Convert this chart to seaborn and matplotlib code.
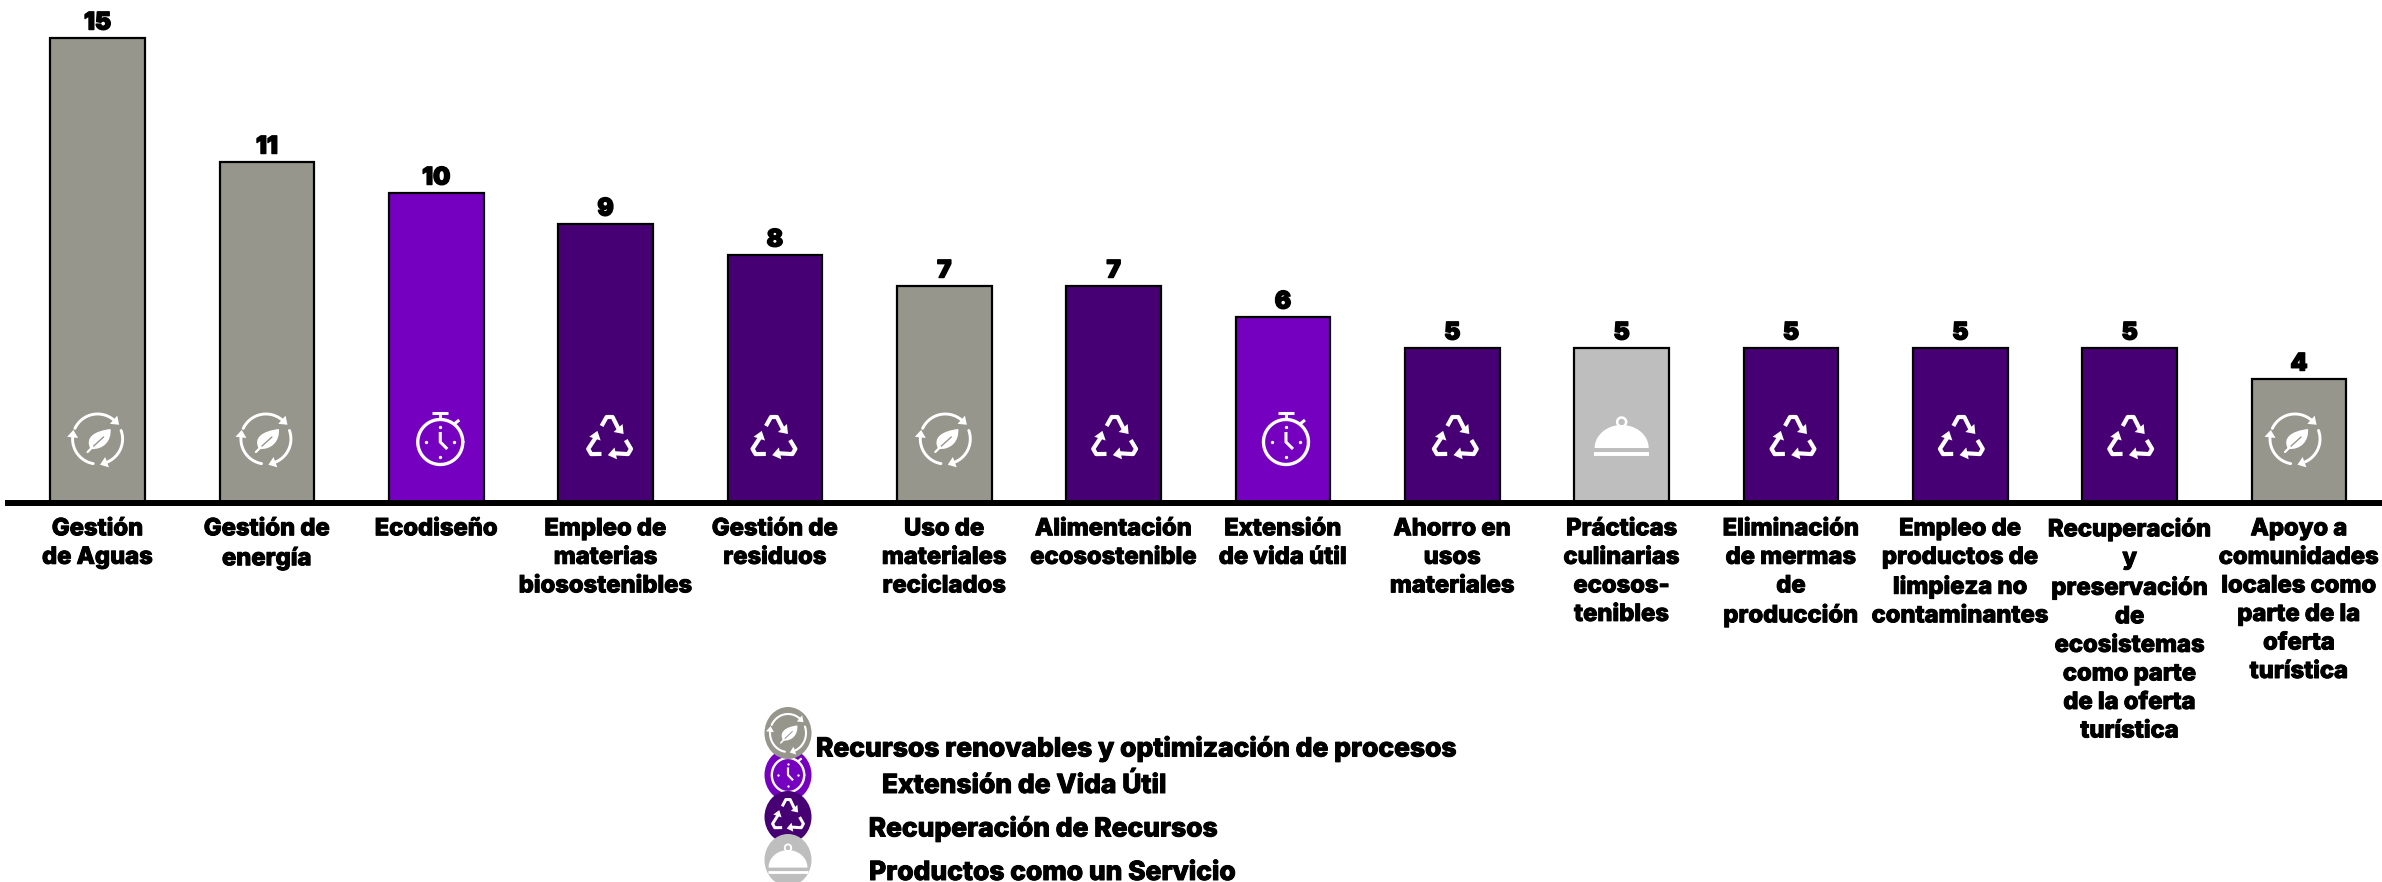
import numpy as np
import pandas as pd
import matplotlib
matplotlib.use("Agg")
import matplotlib.pyplot as plt
import matplotlib.patheffects as pe
from matplotlib.patches import Ellipse, Polygon, PathPatch
from matplotlib.path import Path
import seaborn as sns

# Chart values
categories = [
    "Gestión\nde Aguas", "Gestión de\nenergía", "Ecodiseño",
    "Empleo de\nmaterias\nbiosostenibles", "Gestión de\nresiduos",
    "Uso de\nmateriales\nreciclados", "Alimentación\necosostenible",
    "Extensión\nde vida útil", "Ahorro en\nusos\nmateriales",
    "Prácticas\nculinarias\necosos-\ntenibles",
    "Eliminación\nde mermas\nde\nproducción",
    "Empleo de\nproductos de\nlimpieza no\ncontaminantes",
    "Recuperación\ny\npreservación\nde\necosistemas\ncomo parte\nde la oferta\nturística",
    "Apoyo a\ncomunidades\nlocales como\nparte de la\noferta\nturística",
]
values = [15, 11, 10, 9, 8, 7, 7, 6, 5, 5, 5, 5, 5, 4]
groups = ["renew", "renew", "life", "recov", "recov", "renew", "recov",
          "life", "recov", "serv", "recov", "recov", "recov", "renew"]

palette = {"renew": "#96968c", "life": "#7500c0", "recov": "#460073", "serv": "#bebebe"}
legend_labels = {
    "renew": "Recursos renovables y optimización de procesos",
    "life": "Extensión de Vida Útil",
    "recov": "Recuperación de Recursos",
    "serv": "Productos como un Servicio",
}

FONT = "Inter"
W, H = 2382, 882
HEAVY = [pe.withStroke(linewidth=0.7, foreground="black")]

sns.set_theme(style="white")
plt.rcParams["font.family"] = [FONT, "DejaVu Sans"]

df = pd.DataFrame({"cat": categories, "val": values, "group": groups})

fig = plt.figure(figsize=(W / 100, H / 100), dpi=100)
ax = fig.add_axes([8 / W, 1 - 503 / H, (W - 8) / W, 503 / H])

sns.barplot(data=df, x="cat", y="val", hue="group", palette=palette, dodge=False,
            width=0.56, edgecolor="black", linewidth=1.6, legend=False, saturation=1, ax=ax)

ax.set_xlim(-0.529, 13.49)
ax.set_ylim(0, 503 / 31)
ax.set_xlabel("")
ax.set_ylabel("")
ax.set_yticks([])
sns.despine(ax=ax, left=True)
ax.spines["bottom"].set_linewidth(4.3)
ax.spines["bottom"].set_color("black")
ax.tick_params(axis="x", length=0, pad=11)
for lab in ax.get_xticklabels():
    lab.set_fontsize(17.1)
    lab.set_fontweight(800)
    lab.set_linespacing(1.385)
    lab.set_color("black")
    lab.set_path_effects(HEAVY)

for cont in ax.containers:
    labs = ax.bar_label(cont, labels=[f"{v:.0f}" if v > 0 else "" for v in cont.datavalues],
                        padding=2.5, fontsize=17.5, fontweight=900, color="black")
    for t in labs:
        t.set_path_effects([pe.withStroke(linewidth=1.0, foreground="black")])

# Overlay in pixel units for the white pictograms and legend
ov = fig.add_axes([0, 0, 1, 1], facecolor="none")
ov.set_xlim(0, W)
ov.set_ylim(H, 0)
ov.axis("off")


def rot(pts, deg):
    a = np.radians(deg)
    c, s = np.cos(a), np.sin(a)
    return np.array([[x * c - y * s, x * s + y * c] for x, y in pts])


def tf(pts, cx, cy, sx, sy):
    pts = np.asarray(pts, dtype=float)
    return np.column_stack([cx + pts[:, 0] * sx, cy + pts[:, 1] * sy])


def icon_recycle(cx, cy, sx=1, sy=1, color="white"):
    shaft = [(-8, -14), (-3, -23), (3, -23), (9, -11)]
    head = [(13, -16), (14, -6), (4, -8)]
    arts = []
    for deg in (0, 120, 240):
        p = tf(rot(shaft, deg), cx, cy, sx, sy)
        arts += ov.plot(p[:, 0], p[:, 1], color=color, lw=3.0 * sx, solid_capstyle="butt", solid_joinstyle="round")
        arts.append(ov.add_patch(Polygon(tf(rot(head, deg), cx, cy, sx, sy), fc=color, ec="none")))
    return arts


def icon_clock(cx, cy, sx=1, sy=1, color="white"):
    arts = []
    t = np.linspace(0, 2 * np.pi, 80)
    p = tf(np.column_stack([22.5 * np.cos(t), 22.5 * np.sin(t)]), cx, cy, sx, sy)
    arts += ov.plot(p[:, 0], p[:, 1], color=color, lw=2.4 * sx)
    for seg in ([(-8, -29.5), (8, -29.5)], [(0, -29), (0, -23)], [(14, -18), (19, -22)], [(0, -10), (0, 0), (7, 7)]):
        p = tf(seg, cx, cy, sx, sy)
        arts += ov.plot(p[:, 0], p[:, 1], color=color, lw=2.2 * sx, solid_capstyle="butt")
    for d in ([0, -15], [0, 15], [-14, 0], [14, 0]):
        p = tf([d], cx, cy, sx, sy)
        arts += ov.plot(p[:, 0], p[:, 1], "o", color=color, ms=2.4 * sx, mew=0)
    return arts


def icon_cloche(cx, cy, sx=1, sy=1, color="white"):
    t = np.linspace(np.pi, 2 * np.pi, 60)
    dome = tf(np.column_stack([27 * np.cos(t), 10 + 23 * np.sin(t)]), cx, cy, sx, sy)
    arts = [ov.add_patch(Polygon(dome, fc=color, ec="none"))]
    p = tf([(-27.5, 15.5), (27.5, 15.5)], cx, cy, sx, sy)
    arts += ov.plot(p[:, 0], p[:, 1], color=color, lw=2.8 * sx, solid_capstyle="butt")
    t = np.linspace(0, 2 * np.pi, 30)
    p = tf(np.column_stack([4.5 * np.cos(t), -16 + 4.5 * np.sin(t)]), cx, cy, sx, sy)
    arts += ov.plot(p[:, 0], p[:, 1], color=color, lw=1.8 * sx)
    return arts


def icon_leaf(cx, cy, sx=1, sy=1, color="white", bg="#96968c"):
    arts = []
    for start, stop in ((205, 312), (340, 430), (100, 186)):
        t = np.radians(np.linspace(start, stop, 40))
        p = tf(np.column_stack([25 * np.cos(t), 25 * np.sin(t)]), cx, cy, sx, sy)
        arts += ov.plot(p[:, 0], p[:, 1], color=color, lw=2.1 * sx, solid_capstyle="round")
        a = t[-1]
        d = np.array([-np.sin(a), np.cos(a)])
        n = np.array([np.cos(a), np.sin(a)])
        base = 25 * n
        tri = [base + 6.5 * d, base + 5.5 * n - 1 * d, base - 5.5 * n - 1 * d]
        arts.append(ov.add_patch(Polygon(tf(tri, cx, cy, sx, sy), fc=color, ec="none")))
    verts = tf([(-7, 10), (-13, -1), (-4, -8), (13, -10), (14, 2), (6, 11), (-7, 10)], cx, cy, sx, sy)
    codes = [Path.MOVETO, Path.CURVE4, Path.CURVE4, Path.CURVE4, Path.CURVE4, Path.CURVE4, Path.CURVE4]
    arts.append(ov.add_patch(PathPatch(Path(verts, codes), fc=color, ec="none")))
    p = tf([(-5, 8), (6, -2)], cx, cy, sx, sy)
    arts += ov.plot(p[:, 0], p[:, 1], color=bg, lw=1.0 * sx)
    p = tf([(-10, 13), (-5, 8)], cx, cy, sx, sy)
    arts += ov.plot(p[:, 0], p[:, 1], color=color, lw=1.6 * sx)
    return arts


icons = {"renew": icon_leaf, "life": icon_clock, "recov": icon_recycle, "serv": icon_cloche}
icon_y = {"renew": 439, "life": 442, "recov": 440, "serv": 438}
icon_dx = [0, -1, 4, 4, -1, 1, 1, 3, 3, 0, 2, 1, 1, -4]

for i, g in enumerate(groups):
    px = ax.transData.transform((i, 0))[0]
    icons[g](px + icon_dx[i], icon_y[g])

# Legend: discs drawn so the first and third sit over the second
legend_order = ["life", "recov", "serv", "renew"]
disc_y = {"renew": 733, "life": 775, "recov": 817, "serv": 860}
text_x = {"renew": 1136, "life": 1024, "recov": 1043, "serv": 1052}
text_y = {"renew": 749, "life": 786, "recov": 829, "serv": 873}
z = 5
for g in legend_order:
    cy = disc_y[g]
    disc = Ellipse((788, cy), 47, 52, fc=palette[g], ec="none", zorder=z)
    ov.add_patch(disc)
    arts = icons[g](788, cy, 0.72, 0.76)
    for a in arts:
        a.set_zorder(z + 0.5)
        a.set_clip_path(disc)
    z += 1

for g, label in legend_labels.items():
    ov.text(text_x[g], text_y[g], label, ha="center", va="center",
            fontsize=19, fontweight=800, color="black", zorder=20, path_effects=HEAVY)

fig.savefig("out.png", dpi=100)
